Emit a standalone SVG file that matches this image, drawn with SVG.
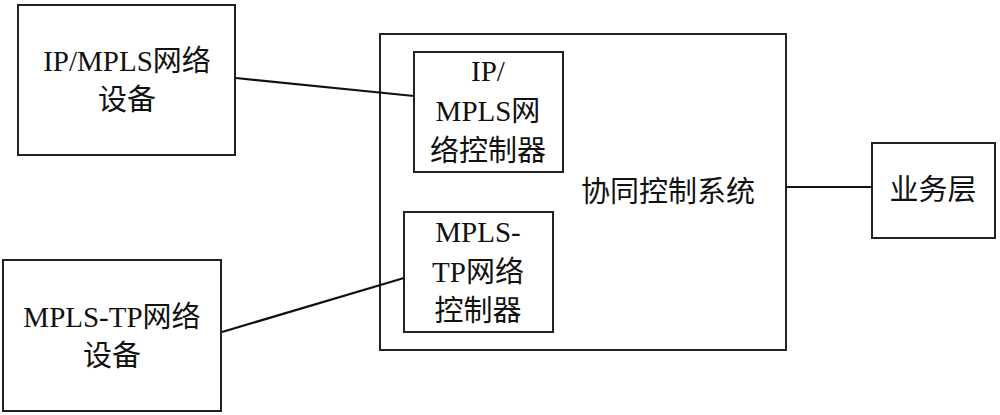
<svg xmlns="http://www.w3.org/2000/svg" width="1000" height="415" viewBox="0 0 1000 415">
<style>
.box{fill:#fff;stroke:#222;stroke-width:2}
.ln{stroke:#111;stroke-width:2.2;fill:none}
text{font-family:"Liberation Serif","Noto Sans CJK SC",serif;font-size:29px;fill:#111;text-anchor:middle}
</style>
<rect width="1000" height="415" fill="#fff"/>
<g id="ipmpls-device">
<rect class="box" x="18" y="5" width="217" height="150"/>
<text x="127" y="71">IP/MPLS网络</text>
<text x="127" y="110">设备</text>
</g>
<g id="mplstp-device">
<rect class="box" x="3" y="260" width="218" height="151"/>
<text x="112" y="327">MPLS-TP网络</text>
<text x="112" y="366">设备</text>
</g>
<g id="coop-system">
<rect class="box" x="380" y="34" width="406" height="316"/>
<text x="668" y="202">协同控制系统</text>
</g>
<g id="ipmpls-controller">
<rect class="box" x="414" y="52" width="149" height="120"/>
<text x="488" y="81">IP/</text>
<text x="488" y="121">MPLS网</text>
<text x="488" y="161">络控制器</text>
</g>
<g id="mplstp-controller">
<rect class="box" x="404" y="212" width="149" height="120"/>
<text x="478" y="242">MPLS-</text>
<text x="478" y="282">TP网络</text>
<text x="478" y="321">控制器</text>
</g>
<g id="service-layer">
<rect class="box" x="872" y="143" width="123" height="95"/>
<text x="933" y="200">业务层</text>
</g>
<g id="connectors">
<line class="ln" x1="236" y1="78" x2="414" y2="96"/>
<line class="ln" x1="222" y1="332" x2="404" y2="278"/>
<line class="ln" x1="786" y1="187" x2="872" y2="187"/>
</g>
</svg>
